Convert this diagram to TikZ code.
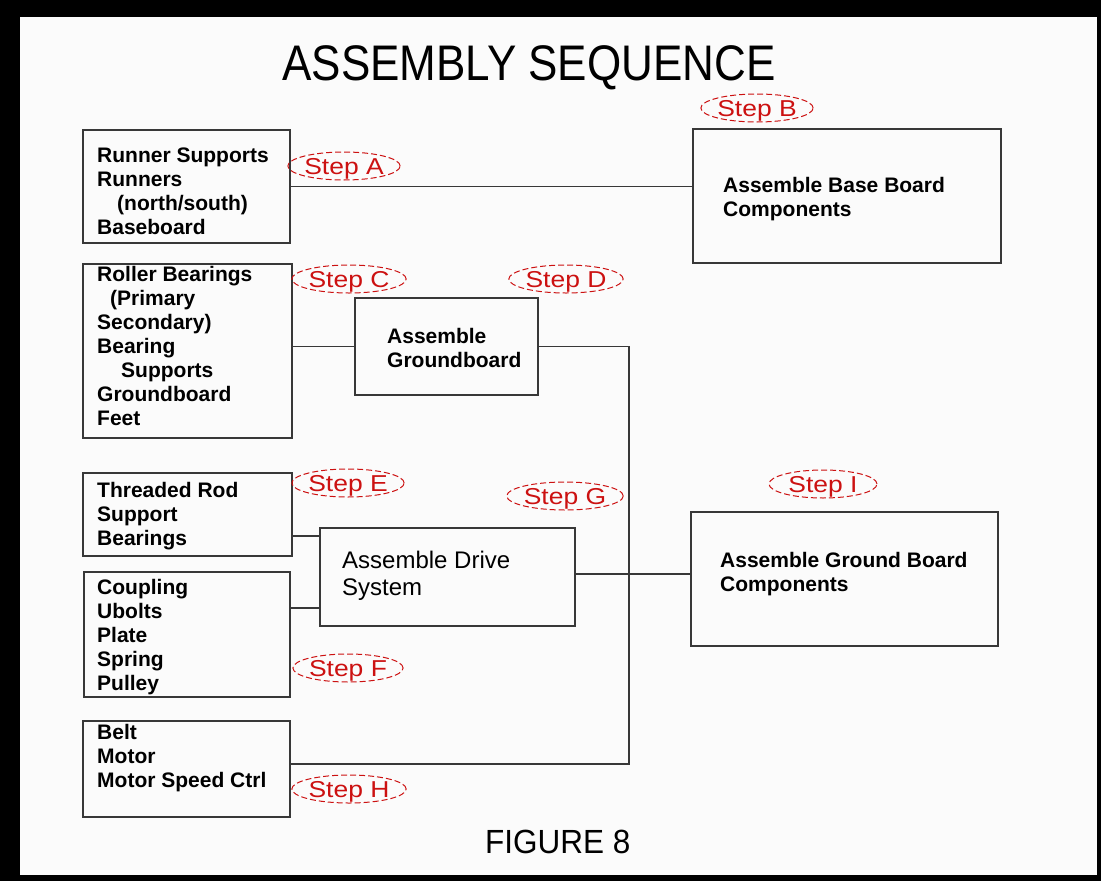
\documentclass[tikz,border=0pt]{standalone}
\usepackage{fontspec}
\usepackage{graphicx}
\setmainfont{Liberation Sans}
\newfontfamily\lsans{Liberation Sans}
\usetikzlibrary{shapes.geometric}
\definecolor{linegray}{HTML}{383838}
\definecolor{stepred}{HTML}{CC1111}
\definecolor{bgwhite}{HTML}{FBFBFB}
\newcommand{\boxlines}[1]{\begin{tabular}[t]{@{}l@{}}#1\end{tabular}}
\begin{document}
\begin{tikzpicture}[x=1pt,y=-1pt,
  box/.style={draw=linegray, line width=1.8pt, inner sep=0pt, rectangle},
  btext/.style={font=\lsans\bfseries\fontsize{21}{24}\selectfont, anchor=base west, inner sep=0pt, text=black},
  rtext/.style={font=\lsans\fontsize{24}{27}\selectfont, anchor=base west, inner sep=0pt, text=black},
  conn/.style={draw=linegray, line width=1.6pt},
  steplbl/.style={ellipse, draw=stepred, line width=1pt, dash pattern=on 6pt off 3pt,
     text=stepred, font=\lsans\fontsize{23}{26}\selectfont, text depth=0pt,
     minimum width=108pt, minimum height=28pt, inner sep=0pt}
]
\useasboundingbox (0,0) rectangle (1101,881);
\fill[black] (0,0) rectangle (1101,881);
\fill[bgwhite] (20,17) rectangle (1097,875);

% title
\node[font=\lsans\fontsize{50}{54}\selectfont, anchor=base, inner sep=0pt] (title) at (529,80) {\scalebox{0.88}[1]{ASSEMBLY SEQUENCE}};
\node[font=\lsans\fontsize{33.5}{36}\selectfont, anchor=base west, inner sep=0pt] (fig) at (485,853) {\scalebox{0.94}[1]{FIGURE 8}};

% boxes
\node[box, minimum width=207pt, minimum height=113pt] (rs) at (186.5,186.5) {};
\node[box, minimum width=209pt, minimum height=174pt] (rb) at (187.5,351) {};
\node[box, minimum width=308pt, minimum height=134pt] (bb) at (847,196) {};
\node[box, minimum width=183pt, minimum height=97pt] (gb) at (446.5,346.5) {};
\node[box, minimum width=209pt, minimum height=83pt] (tr) at (187.5,514.5) {};
\node[box, minimum width=206pt, minimum height=125pt] (cp) at (187,634.5) {};
\node[box, minimum width=255pt, minimum height=98pt] (ds) at (447.5,577) {};
\node[box, minimum width=307pt, minimum height=134pt] (gc) at (844.5,579) {};
\node[box, minimum width=207pt, minimum height=96pt] (bt) at (186.5,769) {};

% box texts
\node[btext] (rst) at (97,162) {\boxlines{Runner Supports\\Runners\\\hspace*{20pt}(north/south)\\Baseboard}};
\node[btext] (rbt) at (97,281) {\boxlines{Roller Bearings\\\hspace*{13pt}(Primary\\Secondary)\\Bearing\\\hspace*{24pt}Supports\\Groundboard\\Feet}};
\node[btext] (bbt) at (723,192) {\boxlines{Assemble Base Board\\Components}};
\node[btext] (gbt) at (387,343) {\boxlines{Assemble\\Groundboard}};
\node[btext] (trt) at (97,497) {\boxlines{Threaded Rod\\Support\\Bearings}};
\node[btext] (cpt) at (97,594) {\boxlines{Coupling\\Ubolts\\Plate\\Spring\\Pulley}};
\node[rtext] (dst) at (342,568) {\boxlines{Assemble Drive\\System}};
\node[btext] (gct) at (720,567) {\boxlines{Assemble Ground Board\\Components}};
\node[btext] (btt) at (97,739) {\boxlines{Belt\\Motor\\Motor Speed Ctrl}};

% connectors
\coordinate (ya) at (0,536);
\coordinate (yb) at (0,608);
\coordinate (yc) at (0,574);
\coordinate (j1) at (629,764);
\draw[conn] (rs.east) -- (rs.east -| bb.west);
\draw[conn] (rb.east |- gb.west) -- (gb.west);
\draw[conn] (gb.east) -| (j1) -- (bt.east |- j1);
\draw[conn] (tr.east |- ya) -- (ds.west |- ya);
\draw[conn] (cp.east |- yb) -- (ds.west |- yb);
\draw[conn] (ds.east |- yc) -- (gc.west |- yc);

% step labels
\node[steplbl] (sa) at (344,166) {\scalebox{1.15}[1]{Step A}};
\node[steplbl] (sb) at (757,108) {\scalebox{1.15}[1]{Step B}};
\node[steplbl] (sc) at (349,279) {\scalebox{1.15}[1]{Step C}};
\node[steplbl] (sd) at (566,279) {\scalebox{1.15}[1]{Step D}};
\node[steplbl] (se) at (348,483) {\scalebox{1.15}[1]{Step E}};
\node[steplbl] (sg) at (565,496) {\scalebox{1.15}[1]{Step G}};
\node[steplbl] (si) at (823,484) {\scalebox{1.15}[1]{Step I}};
\node[steplbl] (sf) at (348,668) {\scalebox{1.15}[1]{Step F}};
\node[steplbl] (sh) at (349,789) {\scalebox{1.15}[1]{Step H}};
\end{tikzpicture}
\end{document}
